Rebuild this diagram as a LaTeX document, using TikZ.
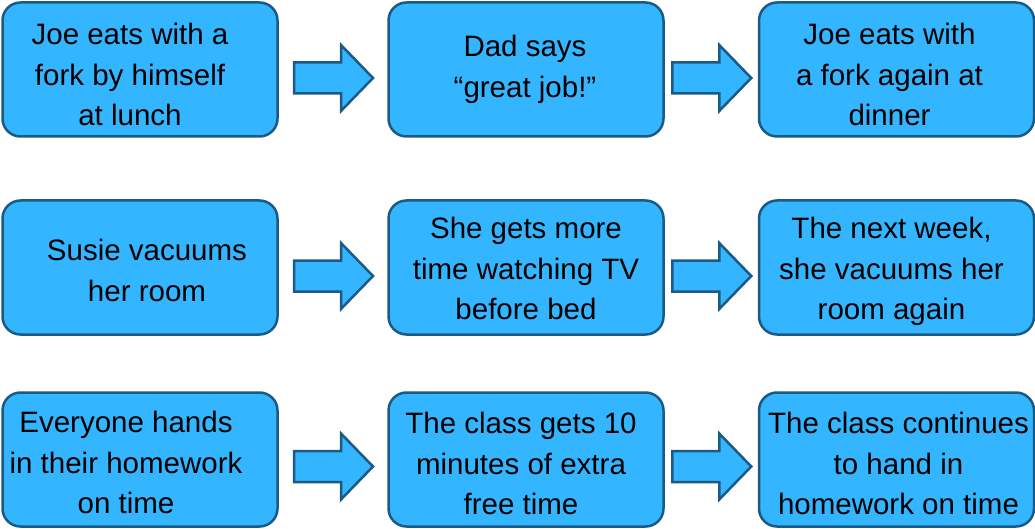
\documentclass[tikz,border=0pt]{standalone}
\usepackage{fontspec}
\setmainfont{Liberation Sans}
\usetikzlibrary{calc}
\definecolor{boxfill}{RGB}{51,181,255}
\definecolor{boxline}{RGB}{28,90,134}
\tikzset{
  stagebox/.style={draw=boxline, fill=boxfill, line width=2.5pt, rounded corners=18pt,
    minimum width=275pt, minimum height=134pt, inner sep=0pt},
  stagetext/.style={align=center, font=\fontsize{29.5}{40.5}\selectfont, inner sep=0pt},
  barrow/.pic={\draw[draw=boxline, fill=boxfill, line width=2.5pt, line join=miter]
     (-39,-15.5) -- (8,-15.5) -- (8,-33) -- (40,0) -- (8,33) -- (8,15.5) -- (-39,15.5) -- cycle;}
}
\begin{document}
\begin{tikzpicture}[x=1pt,y=-1pt]
\useasboundingbox (0,0) rectangle (1035,529);
% boxes
\node[stagebox] (b11) at (140,69.5) {};
\node[stagebox] (b12) at (526,69.5) {};
\node[stagebox] (b13) at (896.5,69.5) {};
\node[stagebox] (b21) at (140,267.5) {};
\node[stagebox] (b22) at (526,267.5) {};
\node[stagebox] (b23) at (896.5,267.5) {};
\node[stagebox] (b31) at (140,459.5) {};
\node[stagebox] (b32) at (526,459.5) {};
\node[stagebox] (b33) at (896.5,459.5) {};
% texts
\node[stagetext] (t11) at ($(b11.center)+(-10,5)$) {Joe eats with a\\fork by himself\\at lunch};
\node[stagetext] (t12) at ($(b12.center)+(-1,0)$) {Dad says\\“great job!”};
\node[stagetext] (t13) at ($(b13.center)+(-7,5)$) {Joe eats with\\a fork again at\\dinner};
\node[stagetext] (t21) at ($(b21.center)+(7,3)$) {Susie vacuums\\her room};
\node[stagetext] (t22) at ($(b22.center)+(0,1)$) {She gets more\\time watching TV\\before bed};
\node[stagetext] (t23) at ($(b23.center)+(-5,4)$) {The next week,\\she vacuums her\\room again};
\node[stagetext] (t31) at ($(b31.center)+(-14,3)$) {Everyone hands\\in their homework\\on time};
\node[stagetext] (t32) at ($(b32.center)+(-5,4)$) {The class gets 10\\minutes of extra\\free time};
\node[stagetext] (t33) at ($(b33.center)+(2,4)$) {The class continues\\to hand in\\homework on time};
% arrows
\path ($(b11.east)!0.5!(b12.west)+(0,8.5)$) pic {barrow};
\path ($(b12.east)!0.5!(b13.west)+(0,8.5)$) pic {barrow};
\path ($(b21.east)!0.5!(b22.west)+(0,8.5)$) pic {barrow};
\path ($(b22.east)!0.5!(b23.west)+(0,8.5)$) pic {barrow};
\path ($(b31.east)!0.5!(b32.west)+(0,7)$) pic {barrow};
\path ($(b32.east)!0.5!(b33.west)+(0,7)$) pic {barrow};
\end{tikzpicture}
\end{document}
